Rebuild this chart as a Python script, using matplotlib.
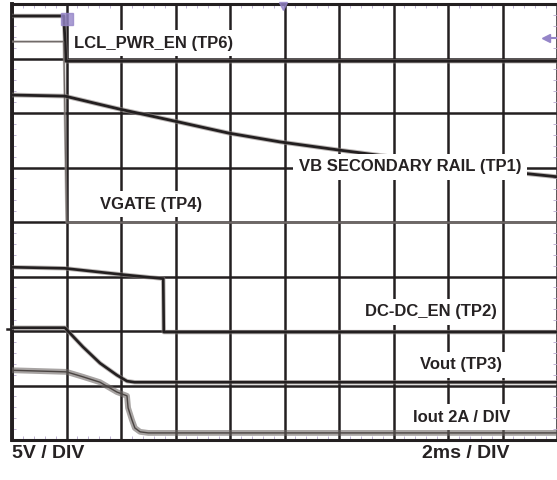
import matplotlib.pyplot as plt
from matplotlib.ticker import MultipleLocator

# time in ms (2 ms / div), levels in scope divisions (0 = bottom of screen)
lcl_t = [0, 1.9, 1.98, 20]
lcl_v = [7.78, 7.78, 6.95, 6.95]

vgate_t = [0, 1.9, 2.0, 20]
vgate_v = [7.31, 7.31, 3.99, 3.99]

vb_t = [0, 1.94, 3.96, 5.98, 7.96, 9.83, 12.0, 14.0, 16.0, 18.64, 20]
vb_v = [6.33, 6.31, 6.07, 5.85, 5.63, 5.47, 5.32, 5.19, 5.08, 4.9, 4.83]

dcdc_t = [0, 1.94, 3.96, 5.55, 5.57, 20]
dcdc_v = [3.17, 3.15, 3.04, 2.96, 1.98, 1.98]

vout_t = [0, 1.94, 2.6, 3.23, 3.85, 4.22, 4.5, 20]
vout_v = [2.06, 2.06, 1.71, 1.41, 1.19, 1.08, 1.06, 1.06]

iout_t = [0, 2.0, 2.6, 3.23, 3.85, 4.22, 4.26, 4.4, 4.51, 4.7, 5.0, 20]
iout_v = [1.28, 1.25, 1.16, 1.06, 0.88, 0.81, 0.59, 0.37, 0.22, 0.15, 0.13, 0.13]

fig = plt.figure(figsize=(5.57, 4.8), dpi=100)
ax = fig.add_axes([12 / 557, 40 / 480, 545 / 557, 436 / 480])
ax.set_xlim(0, 20)
ax.set_ylim(0, 8)

ink = '#231f20'
ax.xaxis.set_major_locator(MultipleLocator(2))
ax.yaxis.set_major_locator(MultipleLocator(1))
ax.xaxis.set_minor_locator(MultipleLocator(0.4))
ax.yaxis.set_minor_locator(MultipleLocator(0.2))
ax.grid(True, which='major', color=ink, lw=1.8, zorder=1)
ax.tick_params(which='major', length=0, labelbottom=False, labelleft=False)
ax.tick_params(which='minor', direction='in', length=3, color='#b4a6cc',
               top=True, right=True, bottom=True, left=True)
for s in ['left', 'top', 'bottom']:
    ax.spines[s].set_color(ink)
ax.spines['left'].set_linewidth(2.8)
ax.spines['top'].set_linewidth(2.2)
ax.spines['bottom'].set_linewidth(2.2)
ax.spines['right'].set_color('#c9bedb')
ax.spines['right'].set_linestyle(':')

# traces: light fuzz underneath, dark core on top
def trace(t, v, core=1.6, fuzz=3.2, c=ink, fc='#8f8785'):
    ax.plot(t, v, color=fc, lw=fuzz, alpha=0.6, zorder=3)
    ax.plot(t, v, color=c, lw=core, zorder=4)

trace(lcl_t, lcl_v, 2.0, 3.2)
trace(vgate_t, vgate_v, 0.8, 1.8, '#6e6866')
trace(vb_t, vb_v, 2.0, 3.4)
trace(dcdc_t, dcdc_v, 1.9, 3.2)
trace(vout_t, vout_v, 1.9, 3.2)
trace(iout_t, iout_v, 1.0, 4.2, '#4a4442', '#6e6866')

# scope markers
purple = '#9585c8'
ax.plot(2.02, 7.72, marker='s', ms=8, color=purple, alpha=0.8, zorder=6, clip_on=False)
ax.plot(9.94, 7.97, marker='v', ms=6, color=purple, alpha=0.8, zorder=6, clip_on=False)
ax.plot([19.6, 19.95], [7.38, 7.38], color=purple, lw=1.5, zorder=6, clip_on=False)
ax.plot(19.6, 7.38, marker='<', ms=6, color=purple, zorder=6, clip_on=False)
ax.plot([-0.2, 0], [2.03, 2.03], color=ink, lw=1.8, clip_on=False)

font = dict(family='Liberation Sans', weight='bold', color='#262223', fontsize=12)
box = dict(facecolor='white', edgecolor='none', pad=4)
ax.text(2.28, 7.28, 'LCL_PWR_EN (TP6)', va='center', bbox=box, zorder=5, **font)
ax.text(10.53, 5.01, 'VB SECONDARY RAIL (TP1)', va='center', bbox=box, zorder=5, **font)
ax.text(3.23, 4.33, 'VGATE (TP4)', va='center', bbox=box, zorder=5, **font)
ax.text(12.95, 2.35, 'DC-DC_EN (TP2)', va='center', bbox=box, zorder=5, **font)
ax.text(14.97, 1.38, 'Vout (TP3)', va='center', bbox=box, zorder=5, **font)
ax.text(14.72, 0.42, 'Iout 2A / DIV', va='center', bbox=box, zorder=5, **font)

big = dict(font)
big['fontsize'] = 14
fig.text(12 / 557, 1 - 454 / 480, '5V / DIV', va='center', ha='left', **big)
fig.text(510 / 557, 1 - 454 / 480, '2ms / DIV', va='center', ha='right', **big)

fig.savefig('out.png', dpi=100)
